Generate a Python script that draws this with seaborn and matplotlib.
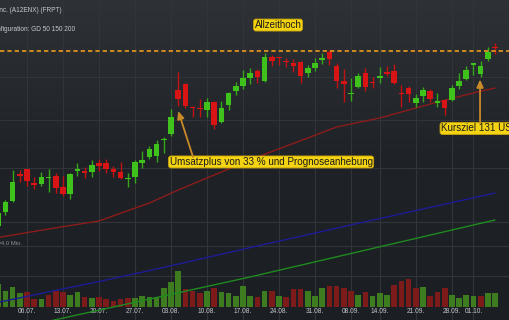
import numpy as np
import pandas as pd
import matplotlib
matplotlib.use("Agg")
import matplotlib.pyplot as plt
import seaborn as sns
from matplotlib.ticker import NullLocator, FixedLocator

# Kursdaten (Handelstage ab 29.06.)
day = np.arange(70)
opens = [79.28, 81.76, 83.76, 88.88, 89.86, 87.14, 86.95, 88.10, 88.49, 86.38,
         85.06, 89.56, 89.47, 89.27, 91.06, 91.06, 89.86, 89.27, 87.81, 88.30,
         91.06, 92.26, 92.47, 95.78, 97.05, 106.90, 108.32, 102.98, 102.64, 102.30,
         104.12, 99.64, 103.44, 106.67, 107.83, 109.76, 111.46, 109.04, 114.94, 114.82,
         113.81, 113.44, 113.69, 110.97, 112.20, 114.19, 116.21, 112.69, 109.04, 105.86,
         107.61, 110.97, 108.80, 109.76, 111.22, 111.46, 106.21, 107.37, 103.89, 105.50,
         106.67, 104.00, 104.58, 104.58, 107.83, 109.52, 113.06, 110.73, 114.44, 117.50]
highs = [82.12, 83.94, 89.66, 89.66, 89.86, 88.30, 89.27, 89.86, 89.07, 88.49,
         89.07, 91.06, 90.26, 91.66, 91.86, 91.86, 90.46, 91.26, 89.07, 91.66,
         93.49, 94.52, 95.78, 96.41, 102.53, 111.22, 108.56, 103.21, 104.81, 105.04,
         104.35, 104.35, 106.44, 108.80, 111.71, 112.20, 111.95, 115.96, 115.45, 114.94,
         114.69, 114.44, 113.94, 112.94, 114.69, 115.96, 116.73, 113.44, 111.95, 109.76,
         110.97, 112.20, 110.00, 112.44, 112.69, 113.19, 108.07, 107.83, 105.98, 107.61,
         107.14, 106.21, 104.58, 108.07, 110.97, 112.69, 113.44, 113.94, 117.50, 118.53]
lows = [78.59, 81.22, 83.57, 87.33, 86.57, 86.00, 86.57, 85.43, 85.24, 84.68,
        84.13, 88.49, 88.10, 88.30, 89.47, 89.07, 88.30, 87.91, 86.38, 87.14,
        90.06, 91.86, 91.26, 93.08, 96.62, 103.21, 102.75, 100.74, 100.74, 100.74,
        98.12, 99.42, 102.30, 105.74, 107.14, 108.32, 108.56, 108.80, 112.69, 112.94,
        112.44, 111.22, 108.56, 110.00, 111.46, 113.19, 112.94, 107.37, 104.12, 104.35,
        107.37, 106.67, 107.37, 108.56, 110.24, 108.32, 102.98, 104.12, 102.98, 104.12,
        104.12, 102.98, 101.19, 104.35, 107.14, 109.28, 110.48, 110.00, 113.94, 115.70]
closes = [81.58, 83.57, 87.33, 88.49, 87.52, 86.76, 88.30, 88.25, 86.19, 85.06,
          88.88, 89.86, 89.07, 90.66, 90.46, 89.86, 89.27, 88.10, 88.01, 91.26,
          91.66, 93.90, 94.94, 95.99, 100.74, 104.81, 103.21, 102.64, 102.42, 104.12,
          98.99, 102.75, 106.21, 107.83, 109.76, 110.97, 110.00, 114.94, 113.81, 114.57,
          113.56, 112.69, 110.24, 112.20, 113.44, 114.69, 114.44, 109.04, 108.32, 106.09,
          110.24, 107.61, 108.56, 110.24, 110.73, 108.56, 105.98, 105.86, 105.04, 106.90,
          104.81, 104.24, 102.75, 107.37, 109.04, 111.71, 113.44, 112.69, 116.21, 117.24]
# Volumen in Mio.
volume = [40, 28, 34, 23, 25, 14, 14, 20, 28, 26,
          21, 25, 17, 16, 17, 14, 11, 14, 15, 16,
          18, 17, 17, 32, 43, 61, 31, 27, 23, 28,
          32, 25, 23, 19, 36, 19, 17, 27, 27, 19,
          17, 30, 31, 28, 18, 32, 35, 35, 32, 28,
          21, 26, 19, 24, 20, 37, 44, 48, 32, 34,
          19, 26, 32, 20, 16, 20, 19, 19, 24, 24]

# gleitende Durchschnitte
gd50_day = [0, 7, 14, 21, 25, 29, 36, 43, 47, 53, 60, 66, 69]
gd50 = [77.30, 78.76, 80.16, 83.39, 85.81, 88.10, 92.26, 96.20, 98.55, 100.52, 103.66, 106.21, 107.37]
gd150_day = [0, 15, 22, 36, 50, 69]
gd150 = [67.03, 70.41, 72.13, 75.87, 79.75, 85.24]
gd200_day = [0, 10, 35, 52, 69]
gd200 = [62.75, 64.98, 70.88, 75.46, 80.33]

tick_days = [0, 4, 9, 14, 19, 24, 29, 34, 39, 44, 49, 53, 58, 63, 66]
tick_labels = ["29.06.", "06.07.", "13.07.", "20.07.", "27.07.", "03.08.", "10.08.", "17.08.",
               "24.08.", "31.08.", "08.09.", "14.09.", "21.09.", "28.09.", "01.10."]

allzeithoch = 116.55

sns.set_style("dark")
plt.rcParams['font.family'] = ['Liberation Sans', 'DejaVu Sans']

fig = plt.figure(figsize=(5.1, 3.2), dpi=100)
axv = fig.add_axes([0, 0, 1, 1])
ax = fig.add_axes([0, 0, 1, 1], sharex=axv)

# Hintergrund-Verlauf
grad = np.linspace(0, 1, 256).reshape(-1, 1)
cmap = matplotlib.colors.LinearSegmentedColormap.from_list("bg", ["#2e3237", "#1f2226", "#1b1e22"])
axv.imshow(grad, cmap=cmap, aspect="auto", extent=[0, 1, 0, 1], transform=axv.transAxes, zorder=0)

# Volumen
vdf = pd.DataFrame({"day": day, "vol": volume,
                    "dir": np.where(np.r_[True, np.diff(closes) > 0], "up", "down")})
sns.barplot(data=vdf, x="day", y="vol", hue="dir", native_scale=True, width=0.8,
            palette={"up": "#3d7d1f", "down": "#7d1b1b"}, saturation=1, legend=False,
            linewidth=0, ax=axv, zorder=2)
axv.set_ylim(-22.2, 523.4)
axv.set_xlim(0.25, 71.08)
axv.yaxis.set_major_locator(FixedLocator([52, 104]))
axv.xaxis.set_major_locator(FixedLocator(tick_days))
axv.set_xticklabels(tick_labels)
axv.grid(True, color="#31353a", lw=0.8, zorder=1)
axv.tick_params(axis="x", direction="in", pad=-8.8, length=0, labelsize=4.8, labelcolor="#c2c6ca")
axv.tick_params(axis="y", length=0, labelleft=False)
axv.set_xlabel("")
axv.set_ylabel("")
axv.text(3.3, 109, "104.0 Mio.", ha="right", va="center", fontsize=4.3, color="#8c9094")
for s in axv.spines.values():
    s.set_visible(False)

# Kurs (log)
ax.set_yscale("log")
ax.set_ylim(64.48, 130.28)
ax.patch.set_alpha(0)
ax.yaxis.set_major_locator(FixedLocator([80, 90, 100, 110]))
ax.yaxis.set_minor_locator(NullLocator())
ax.grid(True, axis="y", color="#31353a", lw=0.8, zorder=0)
ax.tick_params(length=0, labelleft=False, labelbottom=False)
for s in ax.spines.values():
    s.set_visible(False)

sns.lineplot(x=gd50_day, y=gd50, ax=ax, color="#8c1c1c", lw=1.0, zorder=2)
sns.lineplot(x=gd150_day, y=gd150, ax=ax, color="#1c1c96", lw=1.0, zorder=2)
sns.lineplot(x=gd200_day, y=gd200, ax=ax, color="#1f8a1f", lw=1.0, zorder=2)

o = np.array(opens)
c = np.array(closes)
up = c >= o
body_col = np.where(up, "#3fc21c", "#d81414")
wick_col = np.where(up, "#34a818", "#c01212")
ax.vlines(day, lows, highs, colors=wick_col, lw=1.0, zorder=3)
ax.bar(day, np.abs(c - o), bottom=np.minimum(o, c), width=0.78, color=body_col, linewidth=0, zorder=4)

ax.axhline(allzeithoch, color="#eb9a1c", lw=1.2, ls=(0, (2.6, 1.8)), zorder=5)

box = dict(boxstyle="round,pad=0.1,rounding_size=0.25", fc="#f4d312", ec="#c9a50a", lw=0.6)
ax.text(38.86, 123.3, "Allzeithoch", ha="center", va="center", fontsize=7, color="#1a1a1a", bbox=box, zorder=6)
ax.text(37.9, 91.26, "Umsatzplus von 33 % und Prognoseanhebung", ha="center", va="center",
        fontsize=7.1, color="#1a1a1a", bbox=box, zorder=6)
ax.text(61.5, 98.23, "Kursziel 131 USD", ha="left", va="center", fontsize=7.1, color="#1a1a1a", bbox=box, zorder=6)

arrow = dict(arrowstyle="-|>,head_length=0.45,head_width=0.2", color="#c98a28", lw=1.3, shrinkA=0, shrinkB=0)
ax.annotate("", xy=(25, 102.08), xytext=(27.06, 92.26), arrowprops=arrow, zorder=6)
ax.annotate("", xy=(66.92, 109.4), xytext=(66.92, 99.42), arrowprops=arrow, zorder=6)

fig.text(62 / 510, 1 - 10.5 / 320, "Freshpet Inc. (A12ENX) (FRPT)", ha="right", va="center",
         fontsize=4.7, color="#c6c9cc")
fig.text(75 / 510, 1 - 29.3 / 320, "Chart-Konfiguration: GD 50 150 200", ha="right", va="center",
         fontsize=4.7, color="#c6c9cc")

fig.savefig("out.png", dpi=100)
